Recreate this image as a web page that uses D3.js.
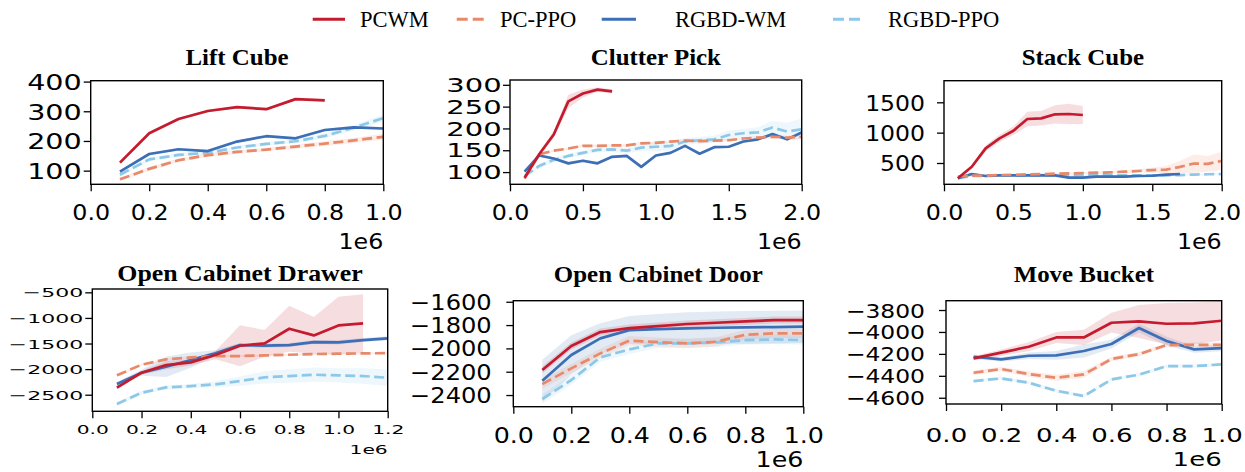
<!DOCTYPE html>
<html><head><meta charset="utf-8">
<script src="https://cdn.jsdelivr.net/npm/d3@7"></script>
<style>body{margin:0;background:#fff}svg{display:block}</style>
</head><body>
<svg id="c" width="1245" height="472"></svg>
<script>
// ---------- data ----------
const seriesNames = ["PCWM", "PC-PPO", "RGBD-WM", "RGBD-PPO"];
const panelTitles = ["Lift Cube", "Clutter Pick", "Stack Cube", "Open Cabinet Drawer", "Open Cabinet Door", "Move Bucket"];

const steps10 = [0.1,0.2,0.3,0.4,0.5,0.6,0.7,0.8,0.9,1.0];
const steps12 = [0.1,0.2,0.3,0.4,0.5,0.6,0.7,0.8,0.9,1.0,1.1,1.2];
const steps20 = [0.1,0.2,0.3,0.4,0.5,0.6,0.7,0.8,0.9,1.0,1.1,1.2,1.3,1.4,1.5,1.6,1.7,1.8,1.9,2.0];

// Lift Cube
const liftPCWM    = [127,226,274,301,314,307,341,337];
const liftPCPPO   = [71,106,135,152,163,171,181,191,202,214];
const liftRGBDWM  = [97,156,172,166,198,216,209,237,246,242];
const liftRGBDPPO = [86,138,153,160,178,190,199,217,245,277];
const liftPCWMSd    = [4,4,4,4,4,4,4,4];
const liftPCPPOSd   = [5,6,6,6,6,6,7,8,9,10];
const liftRGBDWMSd  = [4,4,4,4,4,4,4,4,4,4];
const liftRGBDPPOSd = [5,6,6,6,6,6,7,8,10,12];

// Clutter Pick
const clutterPCWM    = [87,141,186,262,280,289,285];
const clutterPCPPO   = [85,141,149,154,160,160,161,161,166,167,170,172,171,172,173,177,179,181,179,181];
const clutterRGBDWM  = [101,138,131,120,126,120,135,137,112,138,144,160,142,157,158,170,175,187,175,191];
const clutterRGBDPPO = [91,114,128,137,144,151,152,149,156,158,160,170,173,175,185,189,191,202,193,198];
const clutterPCWMSd    = [3,5,8,15,9,5,5];
const clutterPCPPOSd   = [3,3,3,3,3,3,3,3,3,3,3,3,3,3,3,3,3,4,4,5];
const clutterRGBDWMSd  = [3,3,3,3,3,3,3,3,3,3,3,3,3,3,3,3,3,3,3,3];
const clutterRGBDPPOSd = [3,5,5,5,5,5,6,6,8,10,10,8,8,8,10,10,12,15,20,25];

// Stack Cube
const stackPCWM    = [248,439,741,906,1031,1225,1236,1302,1307,1291];
const stackPCPPO   = [275,291,291,302,305,313,316,324,328,335,340,346,357,368,384,390,436,491,485,535];
const stackRGBDWM  = [248,319,286,297,297,297,297,297,258,258,275,275,275,286,290,308,319];
const stackRGBDPPO = [248,286,290,297,297,297,297,297,297,297,297,297,297,297,297,297,300,310,315,319];
const stackPCWMSd    = [10,30,50,60,70,120,120,150,170,150];
const stackPCPPOSd   = [15,15,15,15,15,15,15,15,15,15,20,20,25,30,40,60,100,150,130,150];
const stackRGBDWMSd  = [15,15,15,15,15,15,15,15,15,15,15,15,15,15,15,15,15];
const stackRGBDPPOSd = [15,15,15,15,15,15,15,15,15,15,15,15,15,15,15,15,15,15,15,15];

// Open Cabinet Drawer
const drawerPCWM    = [-2363,-2070,-1921,-1868,-1725,-1543,-1497,-1211,-1341,-1146,-1107];
const drawerPCPPO   = [-2122,-1914,-1810,-1771,-1745,-1745,-1732,-1719,-1706,-1699,-1693,-1686];
const drawerRGBDWM  = [-2292,-2070,-1953,-1823,-1693,-1530,-1543,-1530,-1471,-1478,-1432,-1400];
const drawerRGBDPPO = [-2682,-2461,-2357,-2331,-2298,-2233,-2161,-2135,-2109,-2122,-2135,-2168];
const drawerPCWMSd    = [30,40,80,60,80,400,260,450,360,560,570];
const drawerPCPPOSd   = [20,20,20,20,20,20,20,20,20,20,20,20];
const drawerRGBDWMSd  = [40,60,200,150,60,40,40,40,40,40,40,40];
const drawerRGBDPPOSd = [40,40,40,40,60,90,120,130,140,140,150,160];

// Open Cabinet Door
const doorPCWM    = [-2186,-1980,-1860,-1826,-1809,-1791,-1780,-1769,-1757,-1757];
const doorPCPPO   = [-2306,-2171,-2043,-1934,-1946,-1957,-1943,-1883,-1871,-1871];
const doorRGBDWM  = [-2277,-2057,-1914,-1843,-1834,-1829,-1823,-1820,-1817,-1814];
const doorRGBDPPO = [-2434,-2271,-2077,-2009,-1957,-1957,-1949,-1929,-1923,-1929];
const doorPCWMSd    = [30,30,30,30,30,30,30,30,30,30];
const doorPCPPOSd   = [40,40,40,40,40,40,40,40,40,40];
const doorRGBDWMSd  = [180,170,130,120,130,140,140,140,140,140];
const doorRGBDPPOSd = [40,40,40,40,40,40,40,40,40,40];

// Move Bucket
const bucketPCWM    = [-4241,-4189,-4135,-4050,-4050,-3916,-3904,-3925,-3922,-3898];
const bucketPCPPO   = [-4372,-4338,-4384,-4418,-4387,-4247,-4202,-4120,-4117,-4117];
const bucketRGBDWM  = [-4226,-4250,-4217,-4214,-4174,-4110,-3964,-4083,-4159,-4147];
const bucketRGBDPPO = [-4448,-4424,-4463,-4536,-4585,-4433,-4390,-4311,-4311,-4296];
const bucketPCWMSd    = [20,30,40,50,70,90,150,190,190,180];
const bucketPCPPOSd   = [20,20,25,30,30,20,20,20,20,20];
const bucketRGBDWMSd  = [20,20,30,40,60,40,40,40,30,30];
const bucketRGBDPPOSd = [15,15,15,15,15,15,15,15,15,15];

// tick values
const xTicks1 = [0,0.2,0.4,0.6,0.8,1.0];
const xTicks2 = [0,0.5,1.0,1.5,2.0];
const xTicks12 = [0,0.2,0.4,0.6,0.8,1.0,1.2];
const yTicksLift = [100,200,300,400];
const yTicksClutter = [100,150,200,250,300];
const yTicksStack = [500,1000,1500];
const yTicksDrawer = [-2500,-2000,-1500,-1000,-500];
const yTicksDoor = [-2400,-2200,-2000,-1800,-1600];
const yTicksBucket = [-4600,-4400,-4200,-4000,-3800];
const offsetLabel = "1e6";

// ---------- styles / layout ----------
const colors = {"PCWM":"#c51b2f","PC-PPO":"#e8896a","RGBD-WM":"#3d6fb6","RGBD-PPO":"#8ec8e8"};
const dashed = {"PCWM":false,"PC-PPO":true,"RGBD-WM":false,"RGBD-PPO":true};
const drawOrder = ["RGBD-PPO","RGBD-WM","PC-PPO","PCWM"];

const panels = [
 {box:[90.7,383.3,80.7,184.3], xd:[0,1], yd:[54,403], xt:xTicks1, yt:yTicksLift,
  series:{"PCWM":[liftPCWM,liftPCWMSd],"PC-PPO":[liftPCPPO,liftPCPPOSd],"RGBD-WM":[liftRGBDWM,liftRGBDWMSd],"RGBD-PPO":[liftRGBDPPO,liftRGBDPPOSd]}, xs:steps10,
  fs:22, yfs:21.5, xsx:1.08, ysx:1.33, yGap:9, xBase:220, offBase:249, titleBase:65},
 {box:[510,801.7,80,184.3], xd:[0,2], yd:[72,311], xt:xTicks2, yt:yTicksClutter,
  series:{"PCWM":[clutterPCWM,clutterPCWMSd],"PC-PPO":[clutterPCPPO,clutterPCPPOSd],"RGBD-WM":[clutterRGBDWM,clutterRGBDWMSd],"RGBD-PPO":[clutterRGBDPPO,clutterRGBDPPOSd]}, xs:steps20,
  fs:22, yfs:18.6, xsx:1.08, ysx:1.56, yGap:8.3, xBase:220, offBase:249, titleBase:65},
 {box:[944,1221.7,80.7,184.3], xd:[0,2], yd:[149,1856], xt:xTicks2, yt:yTicksStack,
  series:{"PCWM":[stackPCWM,stackPCWMSd],"PC-PPO":[stackPCPPO,stackPCPPOSd],"RGBD-WM":[stackRGBDWM,stackRGBDWMSd],"RGBD-PPO":[stackRGBDPPO,stackRGBDPPOSd]}, xs:steps20,
  fs:22, yfs:22, xsx:1.08, ysx:1.07, yGap:19, xBase:220, offBase:249, titleBase:65},
 {box:[92.3,387.7,289,411.3], xd:[0,1.2], yd:[-2824,-435], xt:xTicks12, yt:yTicksDrawer,
  series:{"PCWM":[drawerPCWM,drawerPCWMSd],"PC-PPO":[drawerPCPPO,drawerPCPPOSd],"RGBD-WM":[drawerRGBDWM,drawerRGBDWMSd],"RGBD-PPO":[drawerRGBDPPO,drawerRGBDPPOSd]}, xs:steps12,
  fs:12.8, yfs:12.8, xsx:1.58, ysx:1.72, yGap:9, xBase:434.3, offBase:454, titleBase:280.7, tsx:1.1},
 {box:[513.3,803.3,300.7,406.7], xd:[0,1], yd:[-2500,-1591], xt:xTicks1, yt:yTicksDoor,
  series:{"PCWM":[doorPCWM,doorPCWMSd],"PC-PPO":[doorPCPPO,doorPCPPOSd],"RGBD-WM":[doorRGBDWM,doorRGBDWMSd],"RGBD-PPO":[doorRGBDPPO,doorRGBDPPOSd]}, xs:steps10,
  fs:22, yfs:21, xsx:1.15, ysx:1.15, yGap:21.6, xBase:443.3, offBase:467.5, titleBase:282.3},
 {box:[946,1221.7,300.7,404], xd:[0,1], yd:[-4657,-3715], xt:xTicks1, yt:yTicksBucket,
  series:{"PCWM":[bucketPCWM,bucketPCWMSd],"PC-PPO":[bucketPCPPO,bucketPCPPOSd],"RGBD-WM":[bucketRGBDWM,bucketRGBDWMSd],"RGBD-PPO":[bucketRGBDPPO,bucketRGBDPPOSd]}, xs:steps10,
  fs:20, yfs:19.5, xsx:1.3, ysx:1.2, yGap:21, xBase:441.7, offBase:466.5, titleBase:282.3}
];

const svg = d3.select("#c");
const tickFont = "'DejaVu Sans', sans-serif";
const serif = "'Liberation Serif', 'DejaVu Serif', serif";

panels.forEach((p, i) => {
  const [L,R,T,B] = p.box;
  const x = d3.scaleLinear().domain(p.xd).range([L,R]);
  const y = d3.scaleLinear().domain(p.yd).range([B,T]);
  const g = svg.append("g");
  const cid = "clip"+i;
  svg.append("clipPath").attr("id",cid).append("rect").attr("x",L).attr("y",T).attr("width",R-L).attr("height",B-T);
  const plot = g.append("g").attr("clip-path",`url(#${cid})`);

  // bands first
  drawOrder.forEach(name => {
    const [vals, sd] = p.series[name];
    const pts = vals.map((v,k)=>({x:p.xs[k], v, s:sd[k]}));
    plot.append("path").datum(pts)
      .attr("d", d3.area().x(d=>x(d.x)).y0(d=>y(d.v-d.s)).y1(d=>y(d.v+d.s)))
      .attr("fill", colors[name]).attr("fill-opacity", 0.15).attr("stroke","none");
  });
  drawOrder.forEach(name => {
    const [vals] = p.series[name];
    const pts = vals.map((v,k)=>({x:p.xs[k], v}));
    plot.append("path").datum(pts)
      .attr("d", d3.line().x(d=>x(d.x)).y(d=>y(d.v)))
      .attr("fill","none").attr("stroke", colors[name]).attr("stroke-width", 2.7)
      .attr("stroke-linejoin","round")
      .attr("stroke-dasharray", dashed[name] ? "10,4.5" : null);
  });

  // frame
  g.append("rect").attr("x",L).attr("y",T).attr("width",R-L).attr("height",B-T)
    .attr("fill","none").attr("stroke","#000").attr("stroke-width",1.4);

  // x axis
  const xa = g.append("g").attr("transform",`translate(0,${B})`)
    .call(d3.axisBottom(x).tickValues(p.xt).tickFormat(d3.format(".1f")).tickSize(7).tickSizeOuter(0));
  xa.select(".domain").remove();
  xa.selectAll(".tick line").attr("stroke","#000").attr("stroke-width",1.3);
  xa.selectAll(".tick text").attr("y", p.xBase - B).attr("dy",0)
    .attr("font-family",tickFont).attr("font-size",p.fs).attr("fill","#000")
    .attr("transform",`scale(${p.xsx},1)`);
  // y axis
  const ya = g.append("g").attr("transform",`translate(${L},0)`)
    .call(d3.axisLeft(y).tickValues(p.yt).tickFormat(d3.format("d")).tickSize(7).tickSizeOuter(0));
  ya.select(".domain").remove();
  ya.selectAll(".tick line").attr("stroke","#000").attr("stroke-width",1.3);
  ya.selectAll(".tick text").attr("x", -p.yGap / p.ysx).attr("dy","0.36em")
    .attr("font-family",tickFont).attr("font-size",p.yfs).attr("fill","#000")
    .attr("transform",`scale(${p.ysx},1)`);
  // offset label
  g.append("text").attr("x", R / p.xsx).attr("y", p.offBase)
    .attr("transform",`scale(${p.xsx},1)`).attr("text-anchor","end")
    .attr("font-family",tickFont).attr("font-size",p.fs).attr("fill","#000").text(offsetLabel);
  // title
  g.append("text").attr("transform",`translate(${(L+R)/2},${p.titleBase}) scale(${p.tsx||1.06},1)`)
    .attr("text-anchor","middle").attr("font-family",serif).attr("font-weight","bold")
    .attr("font-size",23.5).attr("fill","#000").text(panelTitles[i]);
});

// legend
const legendPos = [[312.7,345,360],[456.7,485,500],[601.7,636,675],[833,861.7,888]];
seriesNames.forEach((name,k) => {
  const [x1,x2,tx] = legendPos[k];
  svg.append("line").attr("x1",x1).attr("x2",x2).attr("y1",19.3).attr("y2",19.3)
    .attr("stroke",colors[name]).attr("stroke-width",3)
    .attr("stroke-dasharray", dashed[name] ? "11,5" : null);
  svg.append("text").attr("x",tx).attr("y",27.2).attr("font-family",serif)
    .attr("font-size",22.5).attr("fill","#000").text(name);
});
</script>
</body></html>
